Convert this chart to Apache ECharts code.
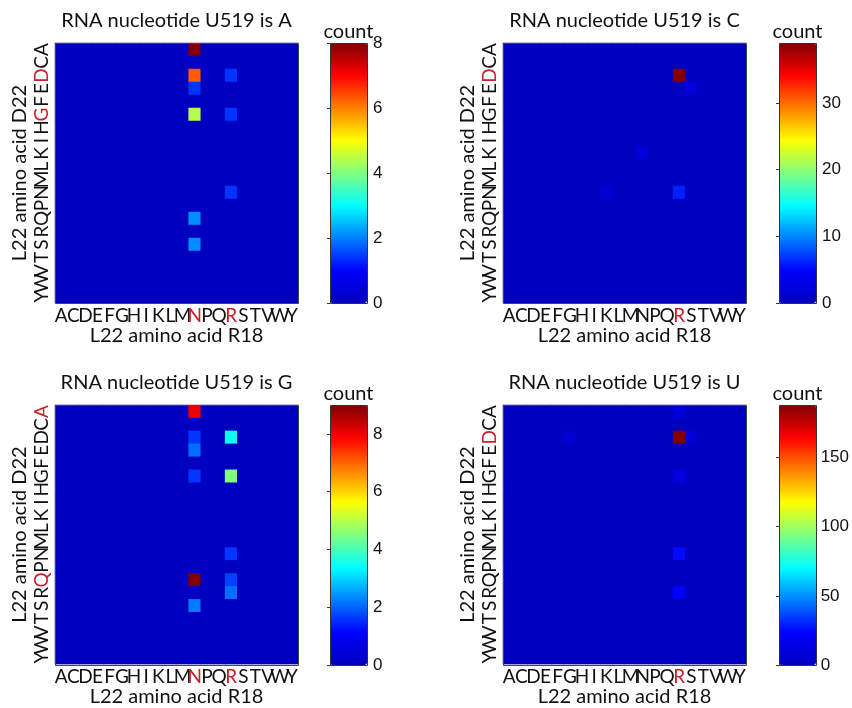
<!DOCTYPE html>
<html>
<head>
<meta charset="utf-8">
<script src="https://cdn.jsdelivr.net/npm/echarts@6/dist/echarts.min.js"></script>
<style>
  html, body { margin: 0; padding: 0; background: #fff; }
  #main { width: 852px; height: 708px; }
</style>
</head>
<body>
<div id="main"></div>
<script>
// amino acids on both axes (y runs A at top to Y at bottom)
const aminoAcids = ['A','C','D','E','F','G','H','I','K','L','M','N','P','Q','R','S','T','V','W','Y'];

// non-zero counts per nucleotide: [R18 residue, D22 residue, count]
const cellsA = [['N','A',8],['N','D',6.3],['N','E',1.4],['N','G',4.4],['N','Q',2.1],['N','S',2.1],
                ['R','D',1.4],['R','G',1.4],['R','N',1.4]];
const cellsC = [['R','D',39],['S','E',2],['N','K',2],['K','N',1.5],['R','N',6]];
const cellsG = [['N','A',8],['N','D',1.6],['N','E',2.1],['N','G',1.6],['N','Q',9],['N','S',2.2],
                ['R','D',3.5],['R','G',4.5],['R','N',1.6],['R','Q',1.7],['R','R',2.1]];
const cellsU = [['R','A',10],['G','D',8],['R','D',188],['S','D',8],['R','G',12],['R','N',25],['R','R',22]];

// colour bar ranges and tick steps
const maxCounts = [8, 39, 9, 188];
const tickSteps = [2, 10, 2, 50];

// residues written in red on each panel
const redX = [['N','R'], ['R'], ['N','R'], ['R']];
const redY = [['D','G'], ['D'], ['A','Q'], ['D']];

const titles = ['RNA nucleotide U519 is A','RNA nucleotide U519 is C','RNA nucleotide U519 is G','RNA nucleotide U519 is U'];

const jet = ['#0000c0','#0000ff','#0080ff','#00ffff','#80ff80','#ffff00','#ff8000','#ff0000','#800000'];
const FONT = 'Lato, "Open Sans", sans-serif';
const RED = '#c8202a';
const INK = '#111';

// layout of each panel: plot box and colour bar x
const layout = [
  { left: 55,  top: 43,  cb: 330 },
  { left: 503, top: 43,  cb: 779 },
  { left: 55,  top: 405, cb: 330 },
  { left: 503, top: 405, cb: 779 }
];
const PW = 243, PH = 260, CBW = 37;

function fullGrid(cells) {
  // every cell is 0 unless listed
  const data = [];
  for (let x = 0; x < aminoAcids.length; x++) {
    for (let y = 0; y < aminoAcids.length; y++) {
      data.push([x, y, 0]);
    }
  }
  for (const c of cells) {
    const xi = aminoAcids.indexOf(c[0]);
    const yi = aminoAcids.indexOf(c[1]);
    data[xi * aminoAcids.length + yi][2] = c[2];
  }
  return data;
}

const allCells = [cellsA, cellsC, cellsG, cellsU];

const chart = echarts.init(document.getElementById('main'), null, { renderer: 'canvas' });

const option = {
  backgroundColor: '#fff',
  animation: false,
  grid: [], xAxis: [], yAxis: [], series: [], visualMap: [], graphic: []
};

layout.forEach((p, i) => {
  const hx = redX[i], hy = redY[i];
  // plot grid gets the zero colour behind the cells so no seams show
  option.grid.push({ left: p.left, top: p.top, width: PW, height: PH, show: true, backgroundColor: jet[0], borderWidth: 0 });
  option.grid.push({ left: p.cb, top: p.top, width: CBW, height: PH });

  option.xAxis.push({
    type: 'category', gridIndex: 2 * i, data: aminoAcids,
    axisLine: { show: false }, axisTick: { show: false }, splitLine: { show: false },
    axisLabel: {
      interval: 0, margin: 3, fontFamily: FONT, fontSize: 19,
      color: (v) => hx.includes(v) ? RED : INK
    },
    name: 'L22 amino acid R18', nameLocation: 'middle', nameGap: 22,
    nameTextStyle: { fontFamily: FONT, fontSize: 20, color: INK }
  });
  option.yAxis.push({
    type: 'category', gridIndex: 2 * i, data: aminoAcids, inverse: true,
    axisLine: { show: false }, axisTick: { show: false }, splitLine: { show: false },
    axisLabel: {
      interval: 0, margin: 4, rotate: 90, fontFamily: FONT, fontSize: 19,
      color: (v) => hy.includes(v) ? RED : INK
    },
    name: 'L22 amino acid D22', nameLocation: 'middle', nameGap: 25,
    nameTextStyle: { fontFamily: FONT, fontSize: 20, color: INK }
  });

  // colour bar axis
  option.xAxis.push({ type: 'value', gridIndex: 2 * i + 1, show: false, min: 0, max: 1 });
  option.yAxis.push({
    type: 'value', gridIndex: 2 * i + 1, position: 'right',
    min: 0, max: maxCounts[i], interval: tickSteps[i],
    axisLine: { show: false },
    axisTick: { show: true, inside: true, length: 3, lineStyle: { color: '#333' } },
    splitLine: { show: false },
    axisLabel: {
      margin: 6, fontFamily: '"Liberation Sans", Arial, sans-serif', fontSize: 17, color: INK,
      showMaxLabel: maxCounts[i] % tickSteps[i] === 0
    }
  });

  option.series.push({
    type: 'heatmap', xAxisIndex: 2 * i, yAxisIndex: 2 * i,
    data: fullGrid(allCells[i]),
    itemStyle: { borderWidth: 0 },
    emphasis: { disabled: true },
    progressive: 0
  });

  option.visualMap.push({
    type: 'continuous', seriesIndex: i, dimension: 2,
    min: 0, max: maxCounts[i], inRange: { color: jet },
    calculable: false, hoverLink: false, orient: 'vertical',
    left: p.cb, top: p.top, itemWidth: CBW, itemHeight: PH, padding: 0
  });

  option.graphic.push(
    {
      type: 'text', x: p.left + PW / 2, y: p.top - 22,
      style: { text: titles[i], font: '20px ' + FONT, fill: INK, textAlign: 'center', textVerticalAlign: 'middle' }
    },
    {
      type: 'text', x: p.cb + CBW / 2, y: p.top - 11,
      style: { text: 'count', font: '20px ' + FONT, fill: INK, textAlign: 'center', textVerticalAlign: 'middle' }
    },
    {
      type: 'rect', z: 100, silent: true,
      shape: { x: p.left + 0.5, y: p.top + 0.5, width: PW, height: PH },
      style: { fill: 'none', stroke: '#444', lineWidth: 1 }
    },
    {
      type: 'rect', z: 100, silent: true,
      shape: { x: p.cb + 0.5, y: p.top + 0.5, width: CBW, height: PH },
      style: { fill: 'none', stroke: '#333', lineWidth: 1 }
    }
  );
});

chart.setOption(option);
</script>
</body>
</html>
